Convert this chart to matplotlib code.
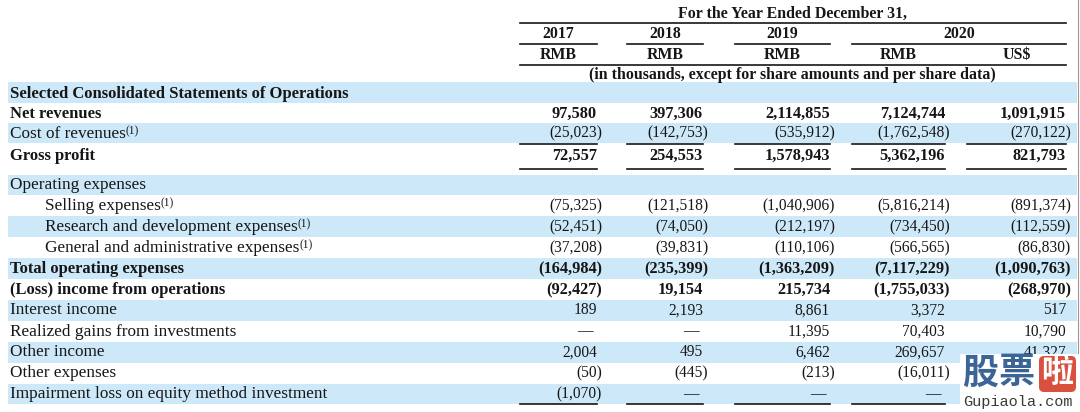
import matplotlib
matplotlib.use("Agg")
import matplotlib.pyplot as plt
from matplotlib.patches import Rectangle, FancyBboxPatch

# ---------------- data ----------------
header_title = "For the Year Ended December 31,"
years = ["2017", "2018", "2019", "2020"]
currencies = ["RMB", "RMB", "RMB", "RMB", "US$"]
units_note = "(in thousands, except for share amounts and per share data)"

row_labels = [
    "Selected Consolidated Statements of Operations",
    "Net revenues",
    "Cost of revenues",
    "Gross profit",
    "Operating expenses",
    "Selling expenses",
    "Research and development expenses",
    "General and administrative expenses",
    "Total operating expenses",
    "(Loss) income from operations",
    "Interest income",
    "Realized gains from investments",
    "Other income",
    "Other expenses",
    "Impairment loss on equity method investment",
]
row_bold = [True, True, False, True, False, False, False, False, True, True,
            False, False, False, False, False]
row_indent = [False, False, False, False, False, True, True, True, False, False,
              False, False, False, False, False]
row_footnote = [False, False, True, False, False, True, True, True, False, False,
                False, False, False, False, False]
row_has_values = [False, True, True, True, False, True, True, True, True, True,
                  True, True, True, True, True]

# None -> em dash, "" -> cell hidden (covered by the watermark)
v2017 = [0, 97580, -25023, 72557, 0, -75325, -52451, -37208, -164984, -92427,
         189, None, 2004, -50, -1070]
v2018 = [0, 397306, -142753, 254553, 0, -121518, -74050, -39831, -235399, 19154,
         2193, None, 495, -445, None]
v2019 = [0, 2114855, -535912, 1578943, 0, -1040906, -212197, -110106, -1363209, 215734,
         8861, 11395, 6462, -213, None]
v2020_rmb = [0, 7124744, -1762548, 5362196, 0, -5816214, -734450, -566565, -7117229, -1755033,
             3372, 70403, 269657, -16011, None]
v2020_usd = [0, 1091915, -270122, 821793, 0, -891374, -112559, -86830, -1090763, -268970,
             517, 10790, 41327, "", ""]
columns = [v2017, v2018, v2019, v2020_rmb, v2020_usd]

watermark_chars = ["股", "票", "啦"]
watermark_site = "Gupiaola.com"

# ---------------- layout ----------------
W, H = 1080, 412
fig = plt.figure(figsize=(W / 100, H / 100), dpi=100)
ax = fig.add_axes([0, 0, 1, 1])
ax.set_xlim(0, W)
ax.set_ylim(H, 0)
ax.axis("off")

SERIF = ["Liberation Serif", "DejaVu Serif"]
TXT = "#161616"
BLUE = "#cde9f9"
FS_NUM_B = 11.8
FS_NUM_R = 11.2
FS_LAB_B = 12
FS_LAB_R = 12.4
FS_HEAD = 11.4

col_left = [520, 627, 735, 852, 967]
col_right = [597, 703, 830, 945, 1066]
year_spans = [(520, 597), (627, 703), (735, 830), (852, 1066)]

row_y = [93.5, 113.5, 133.5, 156, 185, 206, 227, 248, 269, 290, 310.5, 331.5, 352.5, 373, 394]
band_edges = [82, 103, 123, 143, 175, 195, 216, 237, 258, 279, 300, 321, 342, 363, 384, 404]

# bands
for i in range(len(band_edges) - 1):
    if i % 2 == 0:
        ax.add_patch(Rectangle((8, band_edges[i]), 1077 - 8, band_edges[i + 1] - band_edges[i],
                               facecolor=BLUE, edgecolor="none", zorder=0))

# right border line
ax.plot([1077.5, 1077.5], [0, H], color="#9a9a9a", lw=0.8, zorder=1)

# header
ax.text((520 + 1066) / 2, 14, header_title, ha="center", va="center", fontsize=FS_HEAD,
        fontweight="bold", family=SERIF, color=TXT)
ax.plot([520, 1066], [23, 23], color=TXT, lw=1.2)
for yr, (a, b) in zip(years, year_spans):
    ax.text((a + b) / 2, 33.5, yr, ha="center", va="center", fontsize=FS_HEAD,
            fontweight="bold", family=SERIF, color=TXT)
    ax.plot([a, b], [43.5, 43.5], color=TXT, lw=1.2)
for cur, a, b in zip(currencies, col_left, col_right):
    ax.text((a + b) / 2, 54.5, cur, ha="center", va="center", fontsize=FS_HEAD,
            fontweight="bold", family=SERIF, color=TXT)
ax.plot([520, 1066], [64.5, 64.5], color=TXT, lw=1.2)
ax.text(792, 75, units_note, ha="center", va="center", fontsize=FS_HEAD,
        fontweight="bold", family=SERIF, color=TXT)


def fmt(v):
    if v is None:
        return "\u2014"
    if v < 0:
        return "(" + f"{-v:,}" + ")"
    return f"{v:,}"


for i, lab in enumerate(row_labels):
    y = row_y[i]
    x = 45 if row_indent[i] else 10
    bold = row_bold[i]
    t = ax.text(x, y, lab, ha="left", va="center",
                fontsize=FS_LAB_B if bold else FS_LAB_R,
                fontweight="bold" if bold else "normal", family=SERIF, color=TXT)
    if row_footnote[i]:
        ax.annotate("(1)", xy=(1, 0.66), xycoords=t, ha="left", va="center",
                    fontsize=8.3, family=SERIF, color=TXT)
    if not row_has_values[i]:
        continue
    for c, vals in enumerate(columns):
        v = vals[i]
        if isinstance(v, str):
            continue
        xr = col_right[c]
        if v is None:
            xr -= 4
        elif v < 0:
            xr += 5
        ax.text(xr, y, fmt(v), ha="right", va="center",
                fontsize=FS_NUM_B if bold else FS_NUM_R,
                fontweight="bold" if bold else "normal", family=SERIF, color=TXT)

# underlines under cost of revenues, gross profit, and last row
for yl in (143.5, 169, 404):
    for a, b in zip(col_left, col_right):
        ax.plot([a, b], [yl, yl], color=TXT, lw=1.2)

# ---------------- watermark ----------------
ax.add_patch(Rectangle((960, 354), W - 960, H - 354, facecolor="white", edgecolor="none", zorder=5))
CJK = ["Noto Sans CJK SC", "DejaVu Sans"]
ax.text(980, 373, watermark_chars[0], ha="center", va="center", fontsize=26,
        fontweight="heavy", family=CJK, color="#3b6596", zorder=6)
ax.text(1017, 373, watermark_chars[1], ha="center", va="center", fontsize=26,
        fontweight="heavy", family=CJK, color="#3b6596", zorder=6)
ax.add_patch(FancyBboxPatch((1039, 356), 37, 36, boxstyle="round,pad=0,rounding_size=5",
                            facecolor="#d9503f", edgecolor="none", zorder=6))
ax.text(1057.5, 373, watermark_chars[2], ha="center", va="center", fontsize=23,
        fontweight="bold", family=CJK, color="white", zorder=7)
ax.text(1018, 402, watermark_site, ha="center", va="center", fontsize=11,
        family=["Liberation Mono", "DejaVu Sans Mono"], color="#3a3a3a", zorder=7)

fig.savefig("out.png", dpi=100)
